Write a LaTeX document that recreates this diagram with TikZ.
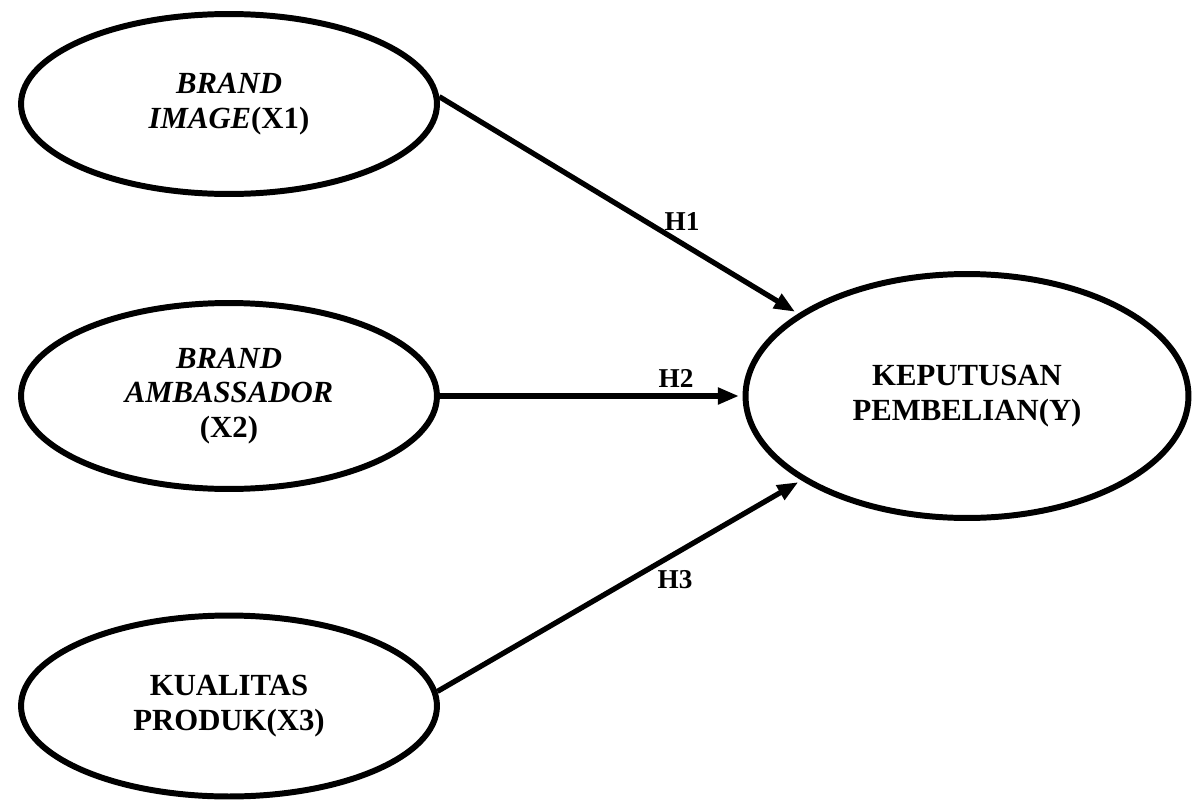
\documentclass[tikz,border=0pt]{standalone}
\usepackage{fontspec}
\setmainfont{Liberation Serif}
\usetikzlibrary{shapes.geometric,arrows.meta}

\begin{document}
\begin{tikzpicture}[x=.02cm, y=-.02cm,
  var/.style = {ellipse, draw, line width=3.4pt, inner sep=0pt, align=center,
    font=\bfseries\fontsize{17.5}{19.5}\selectfont},
  hyp/.style = {line width=3pt, shorten >=2pt, -{Triangle[length=12pt,width=9pt]}},
  lbl/.style = {font=\bfseries\fontsize{15.5}{18}\selectfont}]
  \useasboundingbox (0,0) rectangle (1194,805);
  \node[var, minimum width=8.32cm, minimum height=3.6cm] (x1) at (229,104) {\textit{BRAND}\\\textit{IMAGE}(X1)};
  \node[var, minimum width=8.32cm, minimum height=3.72cm] (x2) at (229,396) {\textit{BRAND}\\\textit{AMBASSADOR}\\(X2)};
  \node[var, minimum width=8.32cm, minimum height=3.62cm] (x3) at (229,706) {KUALITAS\\PRODUK(X3)};
  \node[var, minimum width=8.86cm, minimum height=4.88cm] (y) at (967,396) {KEPUTUSAN\\PEMBELIAN(Y)};
  \draw[hyp] (x1.2) -- (y.154);
  \draw[hyp] (x2) -- (y);
  \draw[hyp] (x3.4) -- (y.-153);
  \node[lbl] (h1) at (682,222) {H1};
  \node[lbl] (h2) at (676,378) {H2};
  \node[lbl] (h3) at (675,580) {H3};
\end{tikzpicture}
\end{document}
